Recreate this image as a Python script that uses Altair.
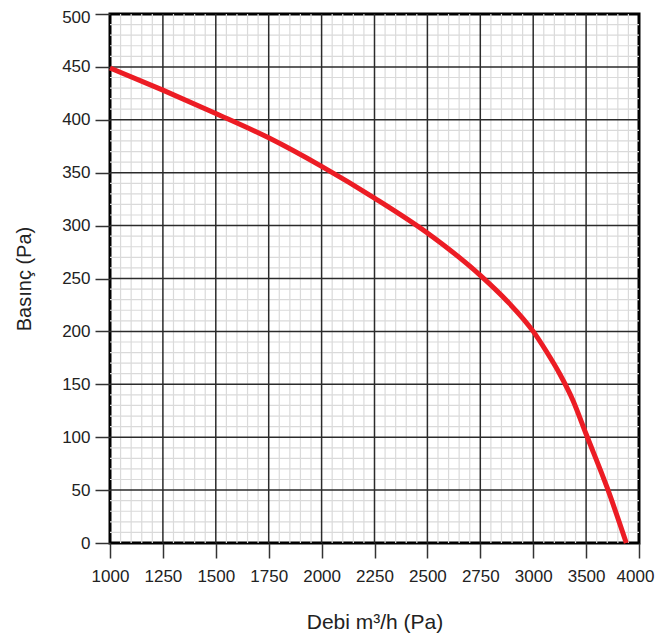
import altair as alt
import pandas as pd

# Fan curve data
flow = [1000, 1250, 1500, 1750, 2000, 2250, 2500, 2750, 2875, 3000, 3125, 3250, 3375, 3500, 3700, 3880]
pressure = [449, 428, 406, 383, 356, 326, 293, 253, 229, 200, 181, 160, 135, 103, 52, 0]

# Axis ticks
x_major = [1000, 1250, 1500, 1750, 2000, 2250, 2500, 2750, 3000, 3500, 4000]
y_major = [0, 50, 100, 150, 200, 250, 300, 350, 400, 450, 500]
x_minor = [v for v in list(range(1000, 3000, 50)) + list(range(3000, 4000, 100)) if v not in x_major]
y_minor = [v for v in range(0, 500, 10) if v not in y_major]

W, H = 529, 529
FONT = "Liberation Sans"

xscale = alt.Scale(domain=[1000, 3000, 4000], range=[0, W * 0.8, W])
yscale = alt.Scale(domain=[0, 500], nice=False, zero=True)

xaxis = alt.Axis(
    values=x_major,
    format="d",
    title="Debi m³/h (Pa)",
    grid=False,
    domain=False,
    tickSize=15,
    tickWidth=1.5,
    tickColor="#333333",
    labelFont=FONT,
    labelFontSize=17,
    labelColor="#222222",
    labelPadding=10,
    labelFlush=False,
    labelOverlap=False,
    labelOffset={"condition": {"test": "datum.value == 4000", "value": -4}, "value": 0},
    titleFont=FONT,
    titleFontSize=21,
    titleFontWeight="normal",
    titleColor="#222222",
    titleY=85,
    titleBaseline="alphabetic",
)
yaxis = alt.Axis(
    values=y_major,
    format="d",
    title="Basınç (Pa)",
    grid=False,
    domain=False,
    tickSize=15,
    tickWidth=1.5,
    tickColor="#333333",
    labelFont=FONT,
    labelFontSize=17,
    labelColor="#222222",
    labelPadding=5,
    labelFlush=False,
    labelOverlap=False,
    labelOffset={"condition": {"test": "datum.value == 500", "value": 3}, "value": 0},
    titleFont=FONT,
    titleFontSize=20,
    titleFontWeight="normal",
    titleColor="#222222",
    titleX=-80,
    titleBaseline="alphabetic",
)

curve = pd.DataFrame({"x": flow, "y": pressure})
xmin_df = pd.DataFrame({"x": x_minor})
ymin_df = pd.DataFrame({"y": y_minor})
xmaj_df = pd.DataFrame({"x": [v for v in x_major if v not in (1000, 4000)]})
ymaj_df = pd.DataFrame({"y": [v for v in y_major if v not in (0, 500)]})

minor_x = alt.Chart(xmin_df).mark_rule(color="#dadada", strokeWidth=1.2).encode(
    x=alt.X("x:Q", scale=xscale, axis=xaxis)
)
minor_y = alt.Chart(ymin_df).mark_rule(color="#dadada", strokeWidth=1.2).encode(
    y=alt.Y("y:Q", scale=yscale, axis=yaxis)
)
major_x = alt.Chart(xmaj_df).mark_rule(color="#2b2b2b", strokeWidth=1.5).encode(
    x=alt.X("x:Q", scale=xscale, axis=xaxis)
)
major_y = alt.Chart(ymaj_df).mark_rule(color="#2b2b2b", strokeWidth=1.5).encode(
    y=alt.Y("y:Q", scale=yscale, axis=yaxis)
)

line = alt.Chart(curve).mark_line(color="#ec1c24", strokeWidth=5, interpolate="monotone").encode(
    x=alt.X("x:Q", scale=xscale, axis=xaxis),
    y=alt.Y("y:Q", scale=yscale, axis=yaxis),
)

chart = (
    alt.layer(minor_x, minor_y, major_x, major_y, line)
    .properties(
        width=W,
        height=H,
        autosize=alt.AutoSizeParams(type="none"),
        padding={"left": 102, "top": 6, "right": 16, "bottom": 90},
        background="white",
    )
    .configure_view(stroke="black", strokeWidth=3)
)

chart.save("out.html", embed_options={"renderer": "svg", "actions": False})
